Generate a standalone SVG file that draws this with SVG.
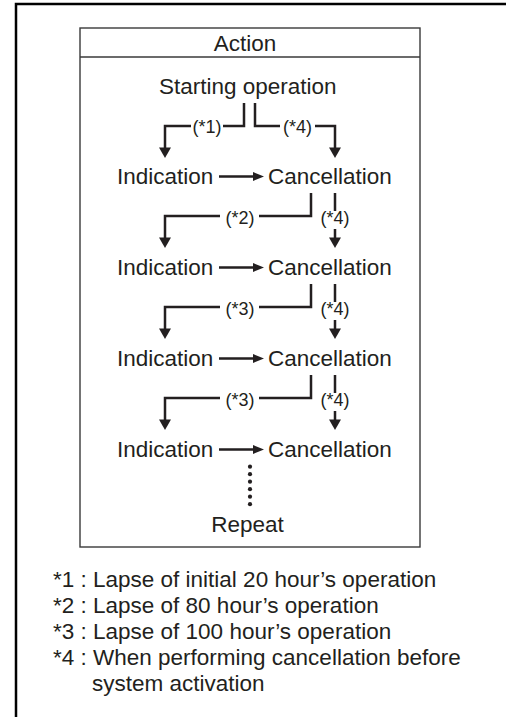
<svg xmlns="http://www.w3.org/2000/svg" xmlns:xlink="http://www.w3.org/1999/xlink" width="506" height="717" viewBox="0 0 506 717">
<style>
text{font-family:"Liberation Sans",Arial,sans-serif;fill:#231f20}
.t{font-size:22.5px}
.s{font-size:18px}
.c{stroke:#231f20;stroke-width:2.5;fill:none;stroke-linejoin:miter}
.h{fill:#231f20}
</style>
<defs>
<path id="ad" d="M-6,-10.5 L6,-10.5 L0,0 z"/>
<path id="ar" d="M-11,-4.5 L-11,4.5 L0,0 z"/>
</defs>
<g id="frame">
<path d="M16,717 V4 H506" fill="none" stroke="#000" stroke-width="2.5"/>
<rect x="80" y="28" width="340" height="519" fill="none" stroke="#3a3a3a" stroke-width="1.4"/>
<line x1="80" y1="57" x2="420" y2="57" stroke="#3a3a3a" stroke-width="1.4"/>
<text class="t" x="245" y="51" text-anchor="middle">Action</text>
</g>
<g id="start"><text class="t" x="159" y="93.5">Starting operation</text></g>
<g id="ind1"><text class="t" x="117" y="184">Indication</text></g>
<g id="can1"><text class="t" x="268" y="184">Cancellation</text></g>
<g id="ind2"><text class="t" x="117" y="275">Indication</text></g>
<g id="can2"><text class="t" x="268" y="275">Cancellation</text></g>
<g id="ind3"><text class="t" x="117" y="366">Indication</text></g>
<g id="can3"><text class="t" x="268" y="366">Cancellation</text></g>
<g id="ind4"><text class="t" x="117" y="457">Indication</text></g>
<g id="can4"><text class="t" x="268" y="457">Cancellation</text></g>
<g id="repeat"><text class="t" x="247.5" y="531.5" text-anchor="middle">Repeat</text></g>
<g id="connectors">
<!-- from starting operation -->
<path class="c" d="M244,103 V126 H223 M191,126 H165 V149"/>
<use xlink:href="#ad" class="h" x="165" y="158"/>
<text class="s" x="207" y="133" text-anchor="middle">(*1)</text>
<path class="c" d="M255,103 V126 H280 M315,126 H335 V149"/>
<use xlink:href="#ad" class="h" x="335" y="158"/>
<text class="s" x="297.5" y="133" text-anchor="middle">(*4)</text>
<!-- horizontal arrows -->
<path class="c" d="M219,176.5 H254 M219,267.5 H254 M219,358.5 H254 M219,449.5 H254"/>
<use xlink:href="#ar" class="h" x="264" y="176.5"/>
<use xlink:href="#ar" class="h" x="264" y="267.5"/>
<use xlink:href="#ar" class="h" x="264" y="358.5"/>
<use xlink:href="#ar" class="h" x="264" y="449.5"/>
<!-- row 1 -> row 2 -->
<path class="c" d="M311,193 V216 H259 M220,216 H165 V239"/>
<use xlink:href="#ad" class="h" x="165" y="248"/>
<text class="s" x="240" y="224" text-anchor="middle">(*2)</text>
<path class="c" d="M335,193 V211 M335,229 V239"/>
<use xlink:href="#ad" class="h" x="335" y="248"/>
<text class="s" x="335" y="224" text-anchor="middle">(*4)</text>
<!-- row 2 -> row 3 -->
<path class="c" d="M311,284 V307 H259 M220,307 H165 V330"/>
<use xlink:href="#ad" class="h" x="165" y="339"/>
<text class="s" x="240" y="315" text-anchor="middle">(*3)</text>
<path class="c" d="M335,284 V302 M335,320 V330"/>
<use xlink:href="#ad" class="h" x="335" y="339"/>
<text class="s" x="335" y="315" text-anchor="middle">(*4)</text>
<!-- row 3 -> row 4 -->
<path class="c" d="M311,375 V398 H259 M220,398 H165 V421"/>
<use xlink:href="#ad" class="h" x="165" y="430"/>
<text class="s" x="240" y="406" text-anchor="middle">(*3)</text>
<path class="c" d="M335,375 V393 M335,411 V421"/>
<use xlink:href="#ad" class="h" x="335" y="430"/>
<text class="s" x="335" y="406" text-anchor="middle">(*4)</text>
<!-- dots to repeat -->
<g class="h">
<circle cx="250" cy="466.7" r="2.1"/>
<circle cx="250" cy="474.2" r="2.1"/>
<circle cx="250" cy="481.7" r="2.1"/>
<circle cx="250" cy="489.2" r="2.1"/>
<circle cx="250" cy="496.7" r="2.1"/>
<circle cx="250" cy="504.2" r="2.1"/>
</g>
</g>
<g id="notes">
<text class="t" x="53" y="587">*1 : Lapse of initial 20 hour’s operation</text>
<text class="t" x="53" y="613">*2 : Lapse of 80 hour’s operation</text>
<text class="t" x="53" y="639">*3 : Lapse of 100 hour’s operation</text>
<text class="t" x="53" y="665">*4 : When performing cancellation before</text>
<text class="t" x="92" y="691">system activation</text>
</g>
</svg>
